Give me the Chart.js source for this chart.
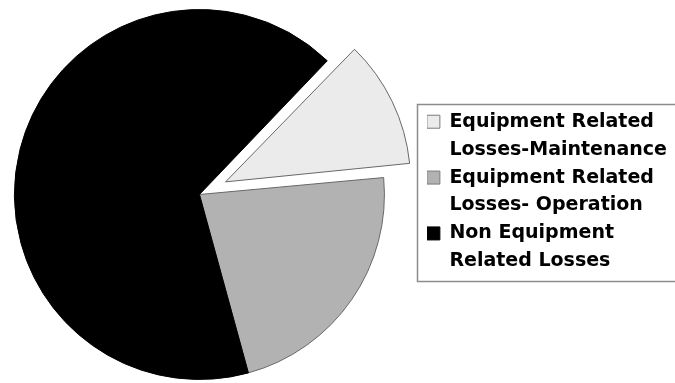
<!DOCTYPE html>
<html>
<head>
<meta charset="utf-8">
<script src="https://cdn.jsdelivr.net/npm/chart.js@4/dist/chart.umd.min.js"></script>
<style>
html,body{margin:0;padding:0;background:#fff;overflow:hidden;}
#wrap{width:675px;height:383px;position:relative;overflow:hidden;}
#c{position:absolute;left:-28px;top:0;}
</style>
</head>
<body>
<div id="wrap"><canvas id="c" width="703" height="383"></canvas></div>
<script>
const categories = [
  ["Equipment Related", "Losses-Maintenance"],
  ["Equipment Related", "Losses- Operation"],
  ["Non Equipment", "Related Losses"]
];
const values = [11.4, 22.2, 66.4];
const sliceColors = ["#ebebeb", "#b2b2b2", "#000000"];
const sliceBorders = ["#686868", "#686868", "#000000"];
const explodePx = [29, 0, 0];

// Chart.js translates an arc by offset/4 and grows its radius; keep radius equal
const keepRadius = {
  id: 'keepRadius',
  afterDatasetsUpdate(chart) {
    const meta = chart.getDatasetMeta(0);
    meta.data.forEach((arc, i) => {
      const off = explodePx[i];
      if (!off) return;
      const fix = 1 - Math.sin(Math.min(Math.PI, arc.circumference || 0));
      arc.outerRadius = arc.outerRadius - off * fix;
    });
  }
};

const legendFrame = {
  id: 'legendFrame',
  afterDraw(chart) {
    const lg = chart.legend;
    if (!lg || !lg.legendHitBoxes || !lg.legendHitBoxes.length) return;
    const hb = lg.legendHitBoxes;
    const first = hb[0], last = hb[hb.length - 1];
    const ctx = chart.ctx;
    ctx.save();
    ctx.strokeStyle = '#8c8c8c';
    ctx.lineWidth = 1.5;
    const x = Math.round(first.left) - 10;
    const y = Math.round(first.top) - 8;
    const b = Math.round(last.top + last.height) + 1;
    ctx.strokeRect(x + 0.5, y + 0.5, 400, b - y);
    ctx.restore();
  }
};

new Chart(document.getElementById('c'), {
  type: 'pie',
  data: {
    labels: categories,
    datasets: [{
      data: values,
      backgroundColor: sliceColors,
      borderColor: sliceBorders,
      borderWidth: 1,
      offset: explodePx.map(v => v * 4)
    }]
  },
  options: {
    responsive: false,
    animation: false,
    rotation: 43.7,
    radius: 185,
    layout: { padding: { top: 6, bottom: 0, left: 0, right: -2 } },
    plugins: {
      tooltip: { enabled: false },
      legend: {
        position: 'right',
        title: { display: true, text: '', font: { size: 3, lineHeight: 1 }, padding: 0 },
        labels: {
          color: '#000',
          font: { family: 'DejaVu Sans', size: 19, weight: 'bold', lineHeight: 1.47 },
          boxWidth: 13,
          boxHeight: 13,
          padding: 0,
          generateLabels(chart) {
            const ds = chart.data.datasets[0];
            return chart.data.labels.map((l, i) => ({
              text: l,
              fillStyle: ds.backgroundColor[i],
              strokeStyle: i === 2 ? '#000' : '#7a7a7a',
              lineWidth: 1,
              hidden: false,
              index: i,
              fontColor: '#000'
            }));
          }
        }
      }
    }
  },
  plugins: [keepRadius, legendFrame]
});
</script>
</body>
</html>
